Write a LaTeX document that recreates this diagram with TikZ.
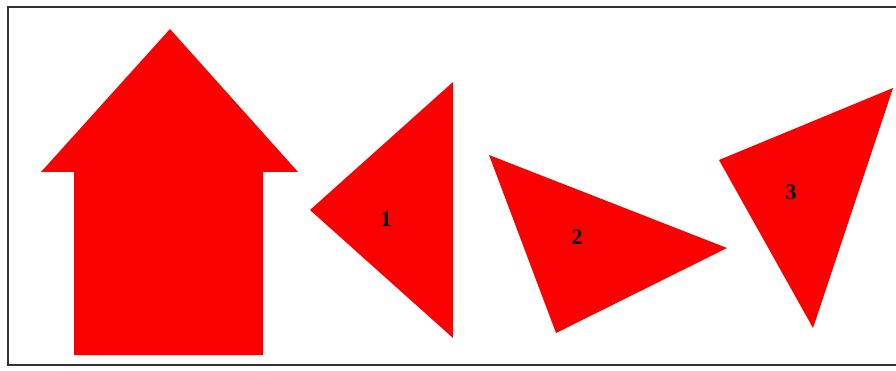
\documentclass[tikz,border=0pt]{standalone}
\usepackage{fontspec}
\setmainfont{Liberation Serif}
\usetikzlibrary{positioning}

\begin{document}
\begin{tikzpicture}[
  x=1pt, y=-1pt,
  piece/.style={fill={rgb,255:red,250;green,0;blue,0}, draw=none},
  num/.style={font=\fontsize{22}{22}\selectfont\bfseries, text=black, inner sep=0pt},
  frame/.style={draw=black!80, line width=2pt}
]
\useasboundingbox (0,0) rectangle (896,371);
\draw[frame] (930,7) -- (8,7) -- (8,365) -- (930,365);
% arrow shape
\fill[piece] (170,29) -- (298,172) -- (263,172) -- (263,355) -- (74,355) -- (74,172) -- (41,172) -- cycle;
% triangles
\fill[piece] (310,210) -- (453,82) -- (453,338) -- cycle;
\fill[piece] (489,155) -- (727,248) -- (556,333) -- cycle;
\fill[piece] (719,160) -- (893,88) -- (813,328) -- cycle;
\node[num] (one) at (386,219) {1};
\node[num] (two) at (577,237) {2};
\node[num] (three) at (791,192) {3};
\end{tikzpicture}
\end{document}
